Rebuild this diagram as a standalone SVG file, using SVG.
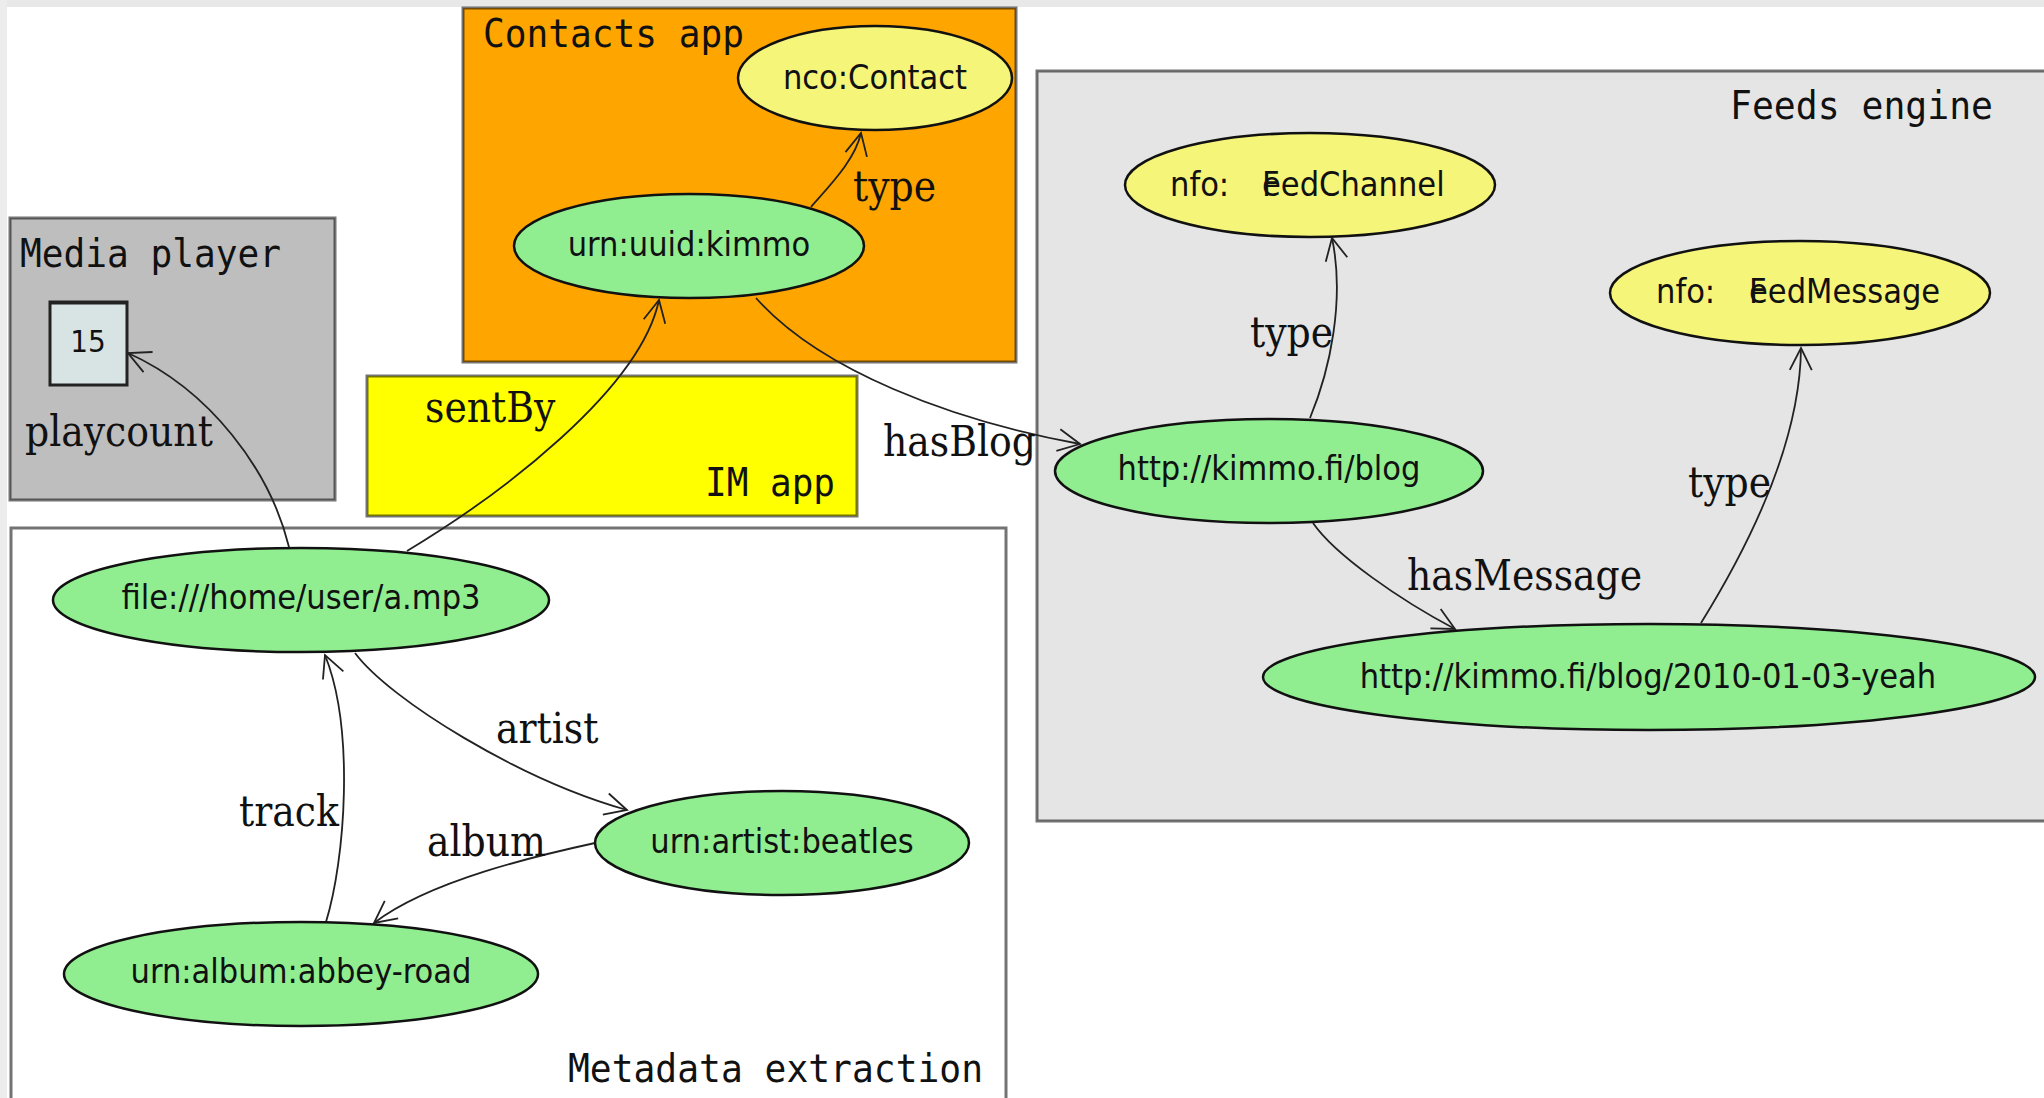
<svg xmlns="http://www.w3.org/2000/svg" width="2044" height="1098" viewBox="0 0 2044 1098">
<style>
.box{stroke:#000;stroke-opacity:0.55;stroke-width:3}
.title{font-family:"DejaVu Sans Mono","Liberation Mono",monospace;font-size:39px;fill:#111}
.node ellipse{stroke:#111;stroke-width:2.5}
.res{fill:#90ee90}
.cls{fill:#f5f57a}
.nt{font-family:"DejaVu Sans Condensed","DejaVu Sans",sans-serif;font-stretch:condensed;font-size:34px;fill:#111;text-anchor:middle}
.nl{font-family:"DejaVu Sans Condensed","DejaVu Sans",sans-serif;font-stretch:condensed;font-size:34px;fill:#111}
.lbl{font-family:"DejaVu Serif Condensed","DejaVu Serif",serif;font-stretch:condensed;font-size:42px;fill:#111}
.edge{fill:none;stroke:#222;stroke-width:1.8;marker-end:url(#arr)}
</style>
<defs>
<marker id="arr" markerUnits="userSpaceOnUse" markerWidth="30" markerHeight="30" viewBox="-25 -15 30 30" refX="0" refY="0" orient="auto" overflow="visible">
<path d="M-22,-11 L0,0 L-22,11" fill="none" stroke="#222" stroke-width="1.8"/>
</marker>
</defs>
<rect x="0" y="0" width="2044" height="1098" fill="#ffffff"/>
<rect x="0" y="0" width="2044" height="7" fill="#e8e8e8"/>
<rect x="0" y="0" width="7" height="1098" fill="#ececec"/>

<g id="metadata-extraction">
<rect class="box" x="11" y="528" width="995" height="600" fill="#ffffff"/>
<text class="title" x="568" y="1082" textLength="415" lengthAdjust="spacingAndGlyphs">Metadata extraction</text>
</g>
<g id="media-player">
<rect class="box" x="10" y="218" width="325" height="282" fill="#bebebe"/>
<text class="title" x="20" y="267" textLength="261" lengthAdjust="spacingAndGlyphs">Media player</text>
</g>
<g id="contacts-app">
<rect class="box" x="463" y="8" width="553" height="354" fill="#ffa500"/>
<text class="title" x="483" y="47" textLength="261" lengthAdjust="spacingAndGlyphs">Contacts app</text>
</g>
<g id="im-app">
<rect class="box" x="367" y="376" width="490" height="140" fill="#ffff00"/>
<text class="title" x="705" y="496" textLength="130" lengthAdjust="spacingAndGlyphs">IM app</text>
</g>
<g id="feeds-engine">
<rect class="box" x="1037" y="71" width="1040" height="750" fill="#e5e5e5"/>
<text class="title" x="1730" y="119" textLength="263" lengthAdjust="spacingAndGlyphs">Feeds engine</text>
</g>

<g id="connectors">
<path class="edge" d="M289,547 C270,470 210,390 128,353"/>
<path class="edge" d="M407,551 C500,495 640,390 659,300"/>
<path class="edge" d="M811,207 C830,185 855,160 861,133"/>
<path class="edge" d="M756,298 C820,370 950,420 1080,444"/>
<path class="edge" d="M1310,418 C1330,370 1345,300 1332,238"/>
<path class="edge" d="M1313,523 C1335,555 1400,600 1455,629"/>
<path class="edge" d="M1701,623 C1740,560 1800,450 1801,348"/>
<path class="edge" d="M355,653 C390,700 520,780 627,810"/>
<path class="edge" d="M595,843 C540,855 430,880 374,923"/>
<path class="edge" d="M326,922 C345,860 355,730 325,655"/>
<text class="lbl" x="25" y="446">playcount</text>
<text class="lbl" x="425" y="422">sentBy</text>
<text class="lbl" x="853" y="201">type</text>
<text class="lbl" x="883" y="456">hasBlog</text>
<text class="lbl" x="1250" y="347">type</text>
<text class="lbl" x="1407" y="590">hasMessage</text>
<text class="lbl" x="1688" y="497">type</text>
<text class="lbl" x="496" y="743">artist</text>
<text class="lbl" x="427" y="856">album</text>
<text class="lbl" x="239" y="826">track</text>
</g>

<g id="playcount-value">
<rect x="50" y="302" width="77" height="83" fill="#d8e4e4" stroke="#222" stroke-width="3"/>
<line x1="50" y1="303" x2="127" y2="303" stroke="#222" stroke-width="3"/>
<text class="nt" x="88" y="352" style="font-size:31px">15</text>
</g>
<g id="nco-contact" class="node">
<ellipse class="cls" cx="875" cy="78" rx="137" ry="52"/>
<text class="nt" x="875" y="89">nco:Contact</text>
</g>
<g id="urn-uuid-kimmo" class="node">
<ellipse class="res" cx="689" cy="246" rx="175" ry="52"/>
<text class="nt" x="689" y="256">urn:uuid:kimmo</text>
</g>
<g id="nfo-feedchannel" class="node">
<ellipse class="cls" cx="1310" cy="185" rx="185" ry="52"/>
<text class="nl" x="1170" y="196">nfo:<tspan x="1262">F</tspan><tspan x="1262">eedChannel</tspan></text>
</g>
<g id="nfo-feedmessage" class="node">
<ellipse class="cls" cx="1800" cy="293" rx="190" ry="52"/>
<text class="nl" x="1656" y="303">nfo:<tspan x="1749">F</tspan><tspan x="1749">eedMessage</tspan></text>
</g>
<g id="kimmo-blog" class="node">
<ellipse class="res" cx="1269" cy="471" rx="214" ry="52"/>
<text class="nt" x="1269" y="480">http://kimmo.fi/blog</text>
</g>
<g id="blog-post" class="node">
<ellipse class="res" cx="1649" cy="677" rx="386" ry="53"/>
<text class="nt" x="1648" y="688">http://kimmo.fi/blog/2010-01-03-yeah</text>
</g>
<g id="file-mp3" class="node">
<ellipse class="res" cx="301" cy="600" rx="248" ry="52"/>
<text class="nt" x="301" y="609">file:///home/user/a.mp3</text>
</g>
<g id="urn-artist-beatles" class="node">
<ellipse class="res" cx="782" cy="843" rx="187" ry="52"/>
<text class="nt" x="782" y="853">urn:artist:beatles</text>
</g>
<g id="urn-album-abbey-road" class="node">
<ellipse class="res" cx="301" cy="974" rx="237" ry="52"/>
<text class="nt" x="301" y="983">urn:album:abbey-road</text>
</g>
</svg>
